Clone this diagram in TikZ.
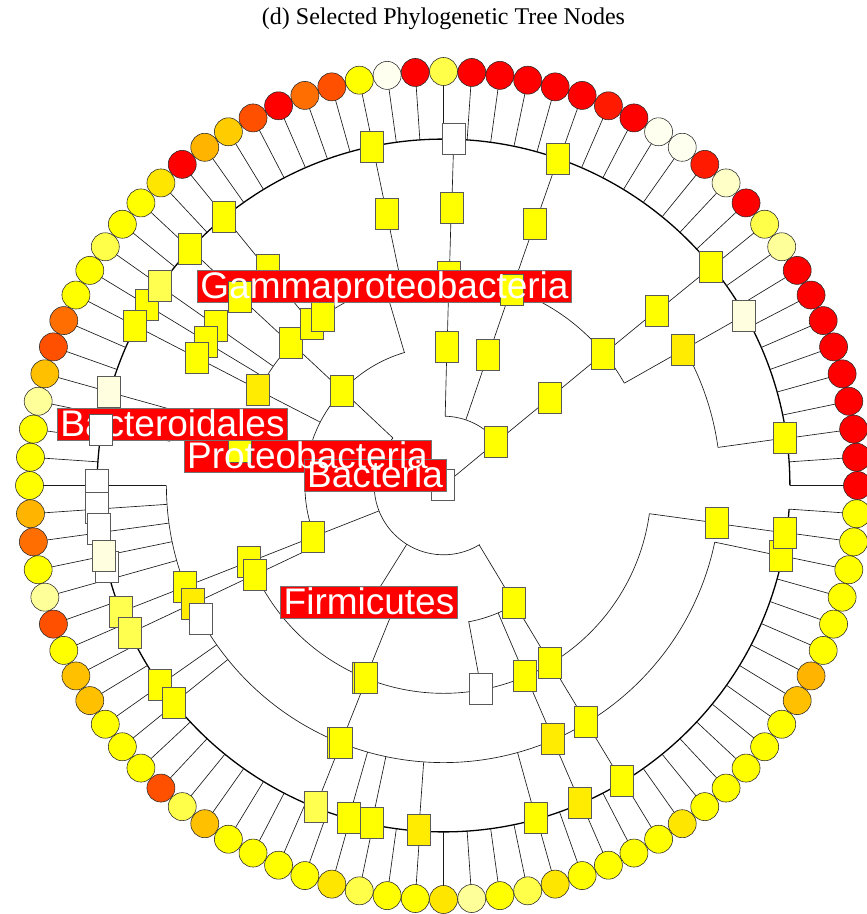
\documentclass[tikz,border=0pt]{standalone}
\usepackage{fontspec}
\setmainfont{Liberation Serif}
\newfontfamily\labfont{Liberation Sans}

% tip colours
\definecolor{tR}{HTML}{FF0000}
\definecolor{tS}{HTML}{FF1A00}
\definecolor{tQ}{HTML}{FF5000}
\definecolor{tO}{HTML}{FF6E00}
\definecolor{tB}{HTML}{FFB400}
\definecolor{tA}{HTML}{FFC000}
\definecolor{tK}{HTML}{FFCC00}
\definecolor{tG}{HTML}{FFE600}
\definecolor{tY}{HTML}{FFFF00}
\definecolor{tL}{HTML}{FFFF4A}
\definecolor{tP}{HTML}{FFFF99}
\definecolor{tC}{HTML}{FFFFC8}
\definecolor{tI}{HTML}{FFFFF0}
% node box colours
\definecolor{bY}{HTML}{FFFF00}
\definecolor{bG}{HTML}{FFEC00}
\definecolor{bL}{HTML}{FFFF50}
\definecolor{bI}{HTML}{FFFFE0}
\definecolor{bW}{HTML}{FFFFFF}

\tikzset{
  edge/.style={line width=0.65pt, black!90},
  famarc/.style={line width=1.3pt, black},
  tipdot/.style={circle, draw=black!85, line width=0.55pt, minimum size=28pt, inner sep=0pt},
  selbox/.style={rectangle, draw=black!65, line width=0.6pt, minimum width=23pt, minimum height=31pt, inner sep=0pt},
  taxbg/.style={rectangle, fill=red, draw=black!55, line width=0.5pt, inner xsep=3pt, inner ysep=1pt,
    text height=27.5pt, text depth=2.5pt, font=\labfont\fontsize{37}{40}\selectfont},
  taxtxt/.style={rectangle, text=white, inner xsep=3pt, inner ysep=1pt,
    text height=27.5pt, text depth=2.5pt, font=\labfont\fontsize{37}{40}\selectfont},
}

\def\tipcolours{tL,tR,tI,tY,tQ,tO,tR,tQ,tK,tB,tR,tG,tY,tY,tL,tY,tY,tO,tQ,tA,%
tP,tY,tY,tY,tB,tO,tY,tP,tQ,tY,tA,tA,tY,tY,tY,tQ,tL,tA,tY,tY,%
tY,tY,tG,tL,tY,tY,tG,tP,tY,tL,tG,tY,tY,tY,tY,tG,tY,tY,tY,tY,%
tY,tA,tB,tY,tY,tY,tY,tY,tY,tR,tR,tR,tR,tR,tR,tR,tR,tR,tP,tL,%
tR,tC,tS,tI,tI,tR,tS,tR,tR,tR,tR,tR}

\begin{document}
\begin{tikzpicture}[x=1pt,y=1pt]
\useasboundingbox (0,0) rectangle (867,914);

\node[font=\fontsize{24}{28}\selectfont] (title) at (443.5,895.5) {(d) Selected Phylogenetic Tree Nodes};

\begin{scope}[shift={(443.5,428.5)}]
%\draw[gray!30] (0,0) circle (414);

% radial branches, level by level
\foreach \ra/\rb/\angs in {
  0/69.3/{39.6,171},
  69.3/138.6/{39.4,71.2,88.6,136.8,167.7,201.5,238,301},
  138.6/207.8/{39.5,71,88.5,106.4,136.9,152.8,169.3,201.5,205.4,248,280.5,293.2,301},
  207.8/277.1/{29.5,39.4,70.8,88.4,101.8,129.2,137.2,145,148.9,152.6,167.4,201.4,205.3,248.3,293.4,301.1,352.2},
  277.1/346.4/{7.9,29.5,39.2,70.7,88.3,101.8,129.2,137,144.9,148.7,152.6,164.4,170.8,180,183.9,187.8,191.7,195.7,201.4,205.2,215.1,218.9,248.3,254.1,258,265.9,285.5,293.3,301.1,348.2,352.1}}
  \foreach \a in \angs
    \draw[edge] (\a:\ra) -- (\a:\rb);

% arcs
\foreach \r/\aa/\ab in {69.3/39.6/88.6, 69.3/136.8/301.5,
  138.6/106.2/205.4, 138.6/238/248, 138.6/280.2/301,
  207.8/29.5/70.7, 207.8/101.8/152.8, 207.8/167.4/169.3, 207.8/201.5/352.2,
  277.1/7.9/29.5, 277.1/129.2/152.6, 277.1/164.4/170.8, 277.1/180/348.2}
  \draw[edge] (\aa:\r) arc[start angle=\aa, end angle=\ab, radius=\r];

\draw[famarc] (0:346.4) arc[start angle=0, end angle=356.1, radius=346.4];

% tips
\foreach \c [count=\i from 0] in \tipcolours {
  \pgfmathsetmacro\ang{90+\i*(360/92)}
  \draw[edge] (\ang:346.4) -- (\ang:410);
}
\foreach \c [count=\i from 0] in \tipcolours {
  \pgfmathsetmacro\ang{90+\i*(360/92)}
  \node[tipdot, fill=\c] (tip\i) at (\ang:414) {};
}
\end{scope}

% selected nodes
\foreach \x/\y/\c [count=\i] in {372/147/bY, 454/139/bW, 558/159/bY, 387/214/bY, 452/208/bY,
  535/224/bY, 224/217/bY, 190/249/bY, 268/270/bY, 147/305/bY, 160/286/bL, 135/326/bY,
  216/326/bY, 206/342/bY, 197/358/bY, 258/390/bG, 291/343/bY, 312/324/bY, 323/316/bY,
  342/391/bY, 449/277/bY, 447/347/bY, 488/355/bY, 550/398/bY, 496/442/bY, 603/354/bY,
  657/311/bY, 711/267/bY, 683/350/bG, 744/316/bI, 785/438/bY, 717/523/bY, 781/556/bY,
  785/533/bY, 443/485/bW, 109/392/bI, 97/485/bW, 97/508/bW, 99/529/bW, 107/567/bW,
  104/556/bI, 313/537/bY, 249/562/bY, 255/575/bY, 185/587/bY, 193/604/bG, 201/619/bW,
  121/612/bL, 130/633/bL, 160/685/bY, 174/703/bY, 364/678/bY, 366/678/bY, 339/743/bY,
  341/743/bY, 316/807/bL, 349/818/bY, 372/823/bY, 419/830/bG, 514/603/bY, 481/689/bW,
  525/676/bY, 550/663/bY, 553/739/bG, 586/722/bY, 536/818/bY, 580/803/bG, 622/781/bY}
  \node[selbox, fill=\c] (sb\i) at (\x,{914-\y}) {};

% clade labels
\node[taxbg] (lgamma) at (384.5,628) {\phantom{Gammaproteobacteria}};
\node[taxbg] (lproteo) at (307.5,458) {\phantom{Proteobacteria}};
\node[taxbg] (lbact) at (375,439) {\phantom{Bacteria}};
\node[taxbg] (lfirm) at (369,311.5) {\phantom{Firmicutes}};

\node[selbox, fill=bY] (sbm1) at (240,617) {};
\node[selbox, fill=bY] (sbm2) at (512,624) {};
\node[selbox, fill=bY] (sbm3) at (240,467) {};

\node[taxbg] (lbacto) at (172.5,489.5) {\phantom{Bacteroidales}};

\node[taxtxt] at (lgamma) {Gammaproteobacteria};
\node[taxtxt] at (lbacto) {Bacteroidales};
\node[taxtxt] at (lproteo) {Proteobacteria};
\node[taxtxt] at (lbact) {Bacteria};
\node[taxtxt] at (lfirm) {Firmicutes};

\node[selbox, fill=bW] (sbp1) at (101,484) {};

\end{tikzpicture}
\end{document}
